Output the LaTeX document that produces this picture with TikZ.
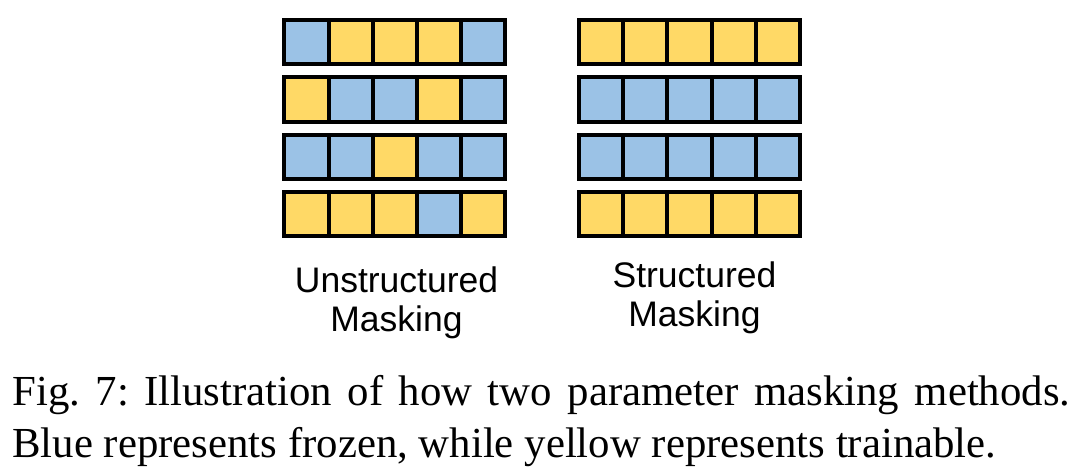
\documentclass[tikz,border=0pt]{standalone}
\usepackage{fontspec}
\setmainfont{Liberation Serif}
\newfontfamily\labelfont{Liberation Sans}
\usepackage{tikz}
\usetikzlibrary{positioning}

\definecolor{frozen}{HTML}{9BC2E6}
\definecolor{trainable}{HTML}{FFD966}

\frenchspacing
\begin{document}
\begin{tikzpicture}[
  x=0.5pt, y=-0.5pt,
  cell/.style={rectangle, draw=black, line width=2pt, minimum width=22.1pt, minimum height=22.1pt, inner sep=0pt},
  lbl/.style={align=center, font=\labelfont\fontsize{17.75}{19.5}\selectfont},
  captext/.style={anchor=base west, inner sep=0pt, font=\fontsize{21.4}{26}\selectfont},
]
\useasboundingbox[fill=white] (0,0) rectangle (1080,473);

% Unstructured masking
\foreach \row [count=\j] in {{frozen,trainable,trainable,trainable,frozen},
                              {trainable,frozen,frozen,trainable,frozen},
                              {frozen,frozen,trainable,frozen,frozen},
                              {trainable,trainable,trainable,frozen,trainable}} {
  \foreach \c [count=\i] in \row {
    \node[cell, fill=\c] (u\j\i) at ({306.4+44.2*(\i-1)}, {42.1+57.4*(\j-1)}) {};
  }
}

% Structured masking
\foreach \c [count=\j] in {trainable,frozen,frozen,trainable} {
  \foreach \i in {1,...,5} {
    \node[cell, fill=\c] (s\j\i) at ({601.1+44.2*(\i-1)}, {42.1+57.4*(\j-1)}) {};
  }
}

% Labels
\node[lbl, anchor=base] (ulabel) at (396.5,331) {Unstructured\\Masking};
\node[lbl, anchor=base] (slabel) at (694.5,326) {Structured\\Masking};

% Caption
\node[captext] (cap1) at (12,405) {\hbox to 529pt{Fig. 7: Illustration of how two parameter masking methods.}};
\node[captext] (cap2) at (12,457) {Blue represents frozen, while yellow represents trainable.};
\end{tikzpicture}
\end{document}
